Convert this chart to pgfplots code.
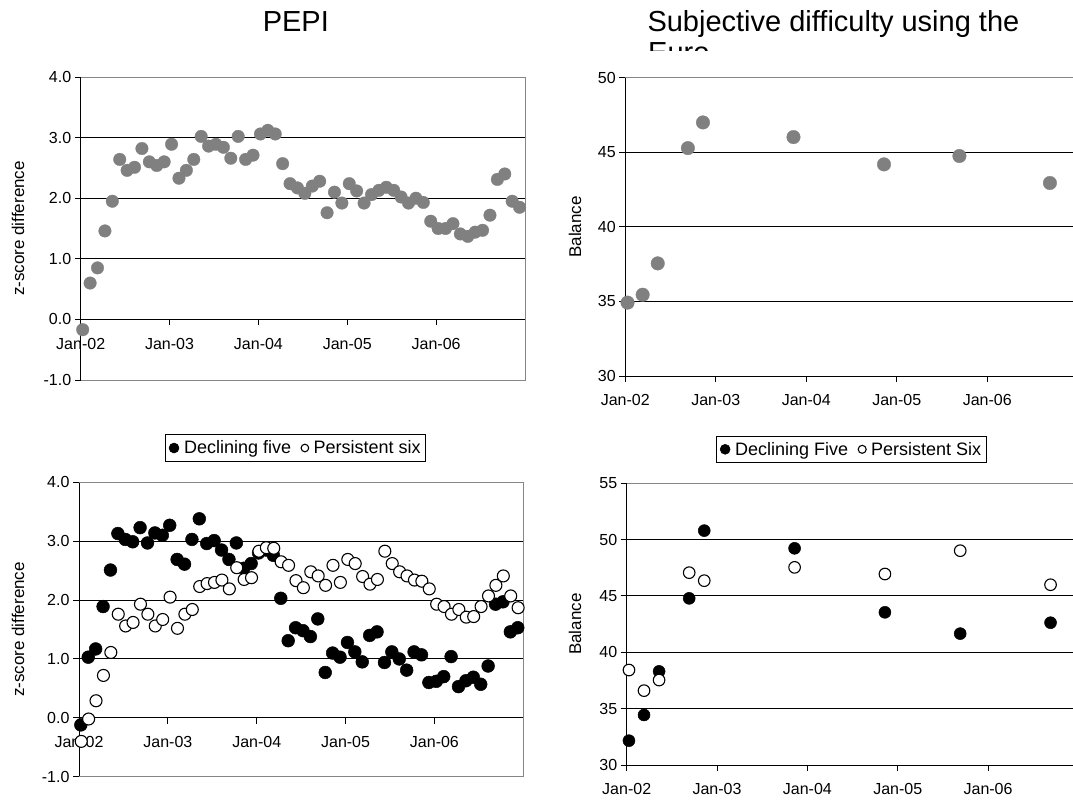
\documentclass[border=0pt]{standalone}
\usepackage{pgfplots}
\usepackage{pgfplotstable}
\pgfplotsset{compat=1.18}
\usepackage{fontspec}
\setmainfont{Liberation Sans}
\definecolor{dotgray}{RGB}{128,128,128}
\definecolor{bordergray}{RGB}{134,134,134}

\pgfplotstableread{
m pepi dec per
0 -0.17 -0.12 -0.40
1 0.60 1.03 -0.02
2 0.85 1.17 0.29
3 1.46 1.89 0.72
4 1.95 2.51 1.11
5 2.64 3.13 1.76
6 2.46 3.03 1.56
7 2.51 2.99 1.62
8 2.82 3.23 1.93
9 2.60 2.97 1.76
10 2.54 3.14 1.56
11 2.60 3.10 1.67
12 2.89 3.27 2.05
13 2.33 2.69 1.52
14 2.46 2.61 1.76
15 2.64 3.03 1.84
16 3.02 3.38 2.23
17 2.86 2.96 2.28
18 2.89 3.01 2.30
19 2.84 2.85 2.34
20 2.66 2.69 2.19
21 3.02 2.97 2.55
22 2.64 2.54 2.35
23 2.71 2.62 2.38
24 3.06 2.80 2.83
25 3.12 2.85 2.89
26 3.06 2.76 2.88
27 2.57 2.03 2.65
28 2.24 1.31 2.59
29 2.17 1.53 2.33
30 2.08 1.48 2.21
31 2.20 1.38 2.48
32 2.28 1.68 2.41
33 1.76 0.77 2.25
34 2.10 1.10 2.59
35 1.92 1.03 2.30
36 2.24 1.28 2.69
37 2.12 1.12 2.62
38 1.92 0.95 2.40
39 2.06 1.40 2.27
40 2.13 1.46 2.35
41 2.18 0.94 2.83
42 2.13 1.12 2.62
43 2.02 1.00 2.48
44 1.92 0.81 2.41
45 2.00 1.12 2.34
46 1.93 1.07 2.32
47 1.62 0.60 2.19
48 1.50 0.62 1.93
49 1.50 0.70 1.89
50 1.58 1.04 1.76
51 1.41 0.53 1.84
52 1.37 0.63 1.71
53 1.44 0.69 1.72
54 1.47 0.57 1.89
55 1.72 0.88 2.07
56 2.31 1.93 2.25
57 2.40 1.97 2.41
58 1.95 1.46 2.07
59 1.85 1.53 1.87
}\monthlydata

\pgfplotstableread{
m euro dec per
0 34.92 32.16 38.43
2 35.45 34.44 36.60
4 37.55 38.31 37.54
8 45.28 44.79 47.07
10 47.00 50.80 46.36
22 46.02 49.23 47.54
34 44.19 43.55 46.95
44 44.75 41.66 49.02
56 42.94 42.63 46.00
}\surveydata

\pgfplotsset{
  legend image code/.code={\draw[mark repeat=1,mark phase=1,#1] plot coordinates {(0pt,0pt)};},
  base/.style={
    scale only axis,
    clip=false,
    axis y line*=left,
    ymajorgrids,
    grid style={black, line width=1pt},
    axis line style={black, line width=1pt},
    tick style={black, line width=1pt},
    major tick length=6pt,
    tick align=outside,
    hide obscured x ticks=false,
    hide obscured y ticks=false,
    xmin=0, xmax=60,
    xtick={0,12,24,36,48,60},
    xticklabels={Jan-02,Jan-03,Jan-04,Jan-05,Jan-06,{}},
    ticklabel style={font=\fontsize{16}{19}\selectfont},
    xticklabel style={yshift=-9pt},
    /pgf/number format/assume math mode=true,
    legend style={draw=black, line width=0.8pt, font=\fontsize{18}{21}\selectfont, legend columns=2, anchor=center,
      inner xsep=4pt, inner ysep=5pt,
      nodes={inner sep=1pt},
      /tikz/every odd column/.append style={column sep=4pt},
      /tikz/every even column/.append style={column sep=9pt}},
  },
  ylab/.style={every axis y label/.style={at={(axis description cs:#1,0.5)}, rotate=90, anchor=center, font=\fontsize{17}{20}\selectfont}},
  onedec/.style={yticklabel style={/pgf/number format/.cd, fixed, fixed zerofill, precision=1}},
  graydot/.style={only marks, color=dotgray, mark=*, mark size=6.3pt, mark options={fill=dotgray, draw=dotgray, line width=0.3pt}},
  blackdot/.style={only marks, color=black, mark=*, mark size=6.4pt, mark options={fill=black, draw=black, line width=0.5pt}},
  whitedot/.style={only marks, color=black, mark=*, mark size=6.0pt, mark options={fill=white, draw=black, line width=1.1pt}},
}

\begin{document}
\begin{tikzpicture}
\path[use as bounding box] (0pt,0pt) rectangle (1073pt,-803pt);

% titles
\node[anchor=base, font=\fontsize{29}{33}\selectfont, inner sep=0pt] at (295.8pt,-31.7pt) {PEPI};
\node[anchor=base west, font=\fontsize{29}{33}\selectfont, inner sep=0pt] at (647.3pt,-31.7pt) {Subjective difficulty using the};
\begin{scope}
\clip (600pt,-38pt) rectangle (800pt,-50pt);
\node[anchor=base west, font=\fontsize{29}{33}\selectfont, inner sep=0pt] at (648pt,-62.7pt) {Euro};
\end{scope}

% top-left
\begin{axis}[base, onedec, ylab=-0.141,
  at={(80.7pt,-380pt)}, anchor=south west, width=444.3pt, height=303pt,
  axis x line*=middle, ymin=-1, ymax=4, ytick={-1,0,1,2,3,4},
  ylabel={z-score difference}]
\addplot[graydot] table[x expr=\thisrow{m}+0.27, y=pepi] {\monthlydata};
\draw[bordergray, line width=1pt] (rel axis cs:0,1) -- (rel axis cs:1,1) -- (rel axis cs:1,0) -- (rel axis cs:0,0);
\end{axis}

% bottom-left
\begin{axis}[base, onedec, ylab=-0.137,
  at={(79pt,-776.7pt)}, anchor=south west, width=444.3pt, height=294.4pt,
  axis x line*=middle, ymin=-1, ymax=4, ytick={-1,0,1,2,3,4},
  ylabel={z-score difference},
  legend style={at={(axis description cs:0.487,1.1165)}}]
\addplot[blackdot, legend image post style={mark size=5pt}] table[x expr=\thisrow{m}+0.25, y=dec] {\monthlydata};
\addlegendentry{Declining five}
\addplot[whitedot, legend image post style={mark size=3.8pt}] table[x expr=\thisrow{m}+0.3, y=per] {\monthlydata};
\addlegendentry{Persistent six}
\draw[bordergray, line width=1pt] (rel axis cs:0,1) -- (rel axis cs:1,1) -- (rel axis cs:1,0) -- (rel axis cs:0,0);
\end{axis}

% top-right
\begin{axis}[base, ylab=-0.111,
  at={(625.3pt,-376pt)}, anchor=south west, width=452.5pt, height=298.3pt,
  axis x line*=bottom, ymin=30, ymax=50, ytick={30,35,40,45,50},
  ylabel={Balance}]
\addplot[graydot, mark size=6.8pt] table[x expr=\thisrow{m}+0.3, y=euro] {\surveydata};
\draw[bordergray, line width=1pt] (rel axis cs:0,1) -- (rel axis cs:1,1);
\end{axis}

% bottom-right
\begin{axis}[base, ylab=-0.1145,
  at={(626.7pt,-765pt)}, anchor=south west, width=451.7pt, height=281.7pt,
  axis x line*=bottom, ymin=30, ymax=55, ytick={30,35,40,45,50,55},
  ylabel={Balance},
  legend style={at={(axis description cs:0.497,1.1207)}}]
\addplot[blackdot, mark size=6pt, legend image post style={mark size=5pt}] table[x expr=\thisrow{m}+0.3, y=dec] {\surveydata};
\addlegendentry{Declining Five}
\addplot[whitedot, mark size=5.8pt, legend image post style={mark size=4pt}] table[x expr=\thisrow{m}+0.3, y=per] {\surveydata};
\addlegendentry{Persistent Six}
\draw[bordergray, line width=1pt] (rel axis cs:0,1) -- (rel axis cs:1,1);
\end{axis}
\end{tikzpicture}
\end{document}
